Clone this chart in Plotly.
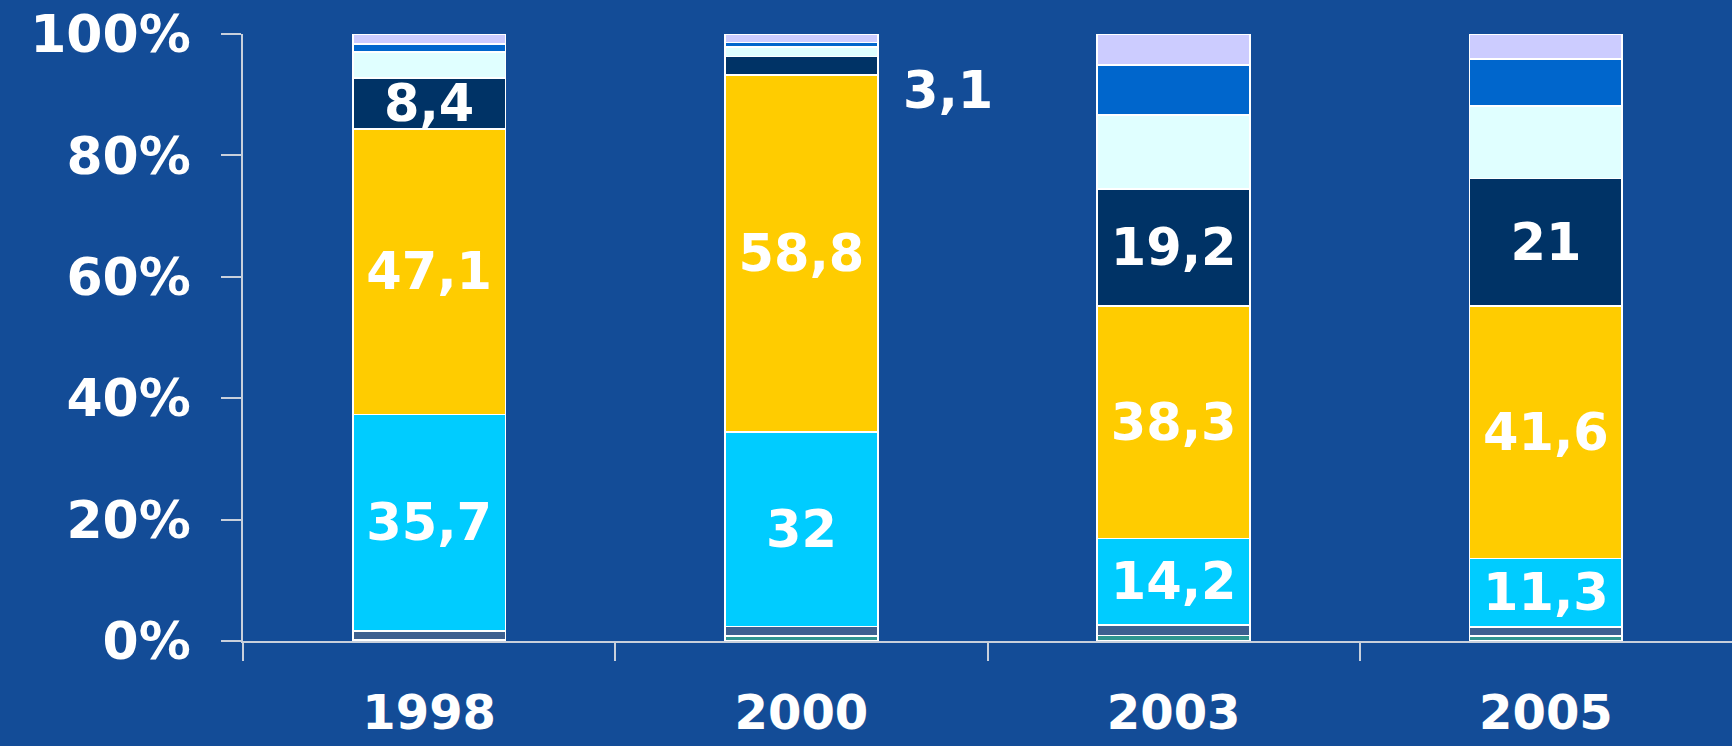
import plotly.graph_objects as go

# Share of each component per survey year (percent, stacked bottom → top)
years = ["1998", "2000", "2003", "2005"]
teal = [0.2, 0.8, 0.9, 0.8]
slate = [1.4, 1.6, 1.8, 1.5]
cyan = [35.7, 32, 14.2, 11.3]
yellow = [47.1, 58.8, 38.3, 41.6]
navy = [8.4, 3.1, 19.2, 21]
light_cyan = [4.3, 1.5, 12.3, 12.0]
blue = [1.3, 0.8, 8.2, 7.7]
lavender = [1.6, 1.4, 5.1, 4.1]
y_ticks = [0, 20, 40, 60, 80, 100]

# Which segments carry a value label inside the bar (2000's navy label sits outside)
navy_inside = [True, False, True, True]

FONT = "DejaVu Sans"
BG = "#134c97"
AXIS = "#c8d0dc"


def fmt(v):
    return f"{v:g}".replace(".", ",")


x = list(range(len(years)))

series = [
    ("teal", teal, "#2f9690", None),
    ("slate", slate, "#3d6090", None),
    ("cyan", cyan, "#00ccff", [True] * 4),
    ("yellow", yellow, "#ffcc00", [True] * 4),
    ("navy", navy, "#003366", navy_inside),
    ("light_cyan", light_cyan, "#e0ffff", None),
    ("blue", blue, "#0066cc", None),
    ("lavender", lavender, "#ccccff", None),
]

fig = go.Figure()
for name, vals, color, show in series:
    text = [fmt(v) if (show and show[i]) else "" for i, v in enumerate(vals)]
    fig.add_trace(go.Bar(
        x=x, y=vals, name=name,
        marker=dict(color=color, line=dict(color="white", width=1.8)),
        width=0.41,
        text=text,
        textposition="inside",
        insidetextanchor="middle",
        constraintext="none",
        textfont=dict(family=FONT, size=51, color="white", weight="bold"),
        hoverinfo="skip",
    ))

# Label for the thin 2000 navy segment, placed beside the bar
fig.add_annotation(
    x=1 + 0.394, y=90.7, xref="x", yref="y",
    text=fmt(navy[1]), showarrow=False,
    font=dict(family=FONT, size=51, color="white", weight="bold"),
)

fig.update_layout(
    barmode="stack",
    showlegend=False,
    width=1732, height=746,
    margin=dict(l=243, r=0, t=34, b=105),
    paper_bgcolor=BG, plot_bgcolor=BG,
    uniformtext=dict(minsize=51, mode="show"),
    xaxis=dict(
        range=[-0.5, 3.5],
        tickvals=x, ticktext=years,
        ticks="", showgrid=False, zeroline=False, automargin=False,
        showline=True, linecolor=AXIS, linewidth=1.5,
        tickfont=dict(family=FONT, size=48, color="white", weight="bold"),
        ticklabelstandoff=29,
        minor=dict(tickvals=[-0.5, 0.5, 1.5, 2.5], ticks="outside",
                   ticklen=18, tickwidth=1.5, tickcolor=AXIS),
    ),
    yaxis=dict(
        range=[0, 100],
        tickvals=y_ticks,
        ticktext=[f"{t}%" for t in y_ticks],
        ticks="outside", ticklen=20, tickwidth=1.5, tickcolor=AXIS,
        showgrid=False, zeroline=False, automargin=False,
        showline=True, linecolor=AXIS, linewidth=1.5,
        tickfont=dict(family=FONT, size=52, color="white", weight="bold"),
        ticklabelstandoff=20,
    ),
)

fig.write_html("out.html")
